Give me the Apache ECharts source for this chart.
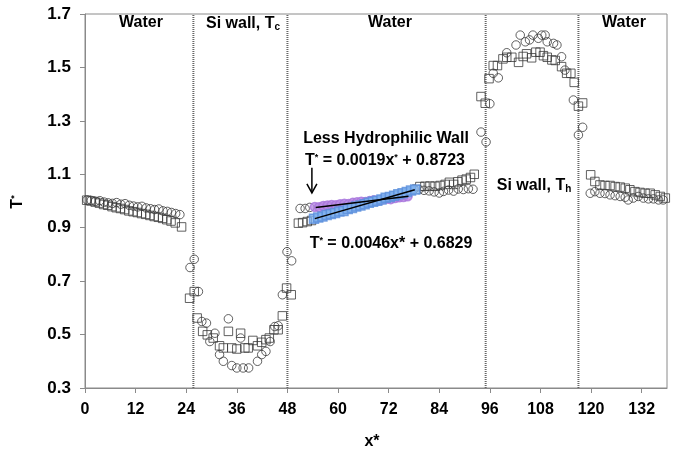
<!DOCTYPE html>
<html>
<head>
<meta charset="utf-8">
<script src="https://cdn.jsdelivr.net/npm/echarts@6/dist/echarts.min.js"></script>
<style>
  * { margin: 0; padding: 0; }
  body { background: #fff; }
  #main { width: 678px; height: 451px; }
</style>
</head>
<body>
<div id="main"></div>
<script>
  // axis ticks
  const xTicks = [0, 12, 24, 36, 48, 60, 72, 84, 96, 108, 120, 132]
  const yTicks = [0.3, 0.5, 0.7, 0.9, 1.1, 1.3, 1.5, 1.7]
  // wall boundaries (x*)
  const wallX = [25.7, 48, 95, 117]

  // open circles [x*, T*]
  const circleData = [
    [0.5, 1.004], [1.5, 1.002], [2.5, 0.999], [3.5, 1.001], [4.5, 0.996], [5.5, 0.993], [6.5, 0.991], [7.5, 0.994],
    [8.5, 0.988], [9.5, 0.990], [10.5, 0.984], [11.5, 0.981], [12.5, 0.978], [13.5, 0.980], [14.5, 0.974], [15.5, 0.971],
    [16.5, 0.968], [17.5, 0.970], [18.5, 0.963], [19.5, 0.961], [20.5, 0.957], [21.5, 0.953], [22.5, 0.949],
    [24.9, 0.751], [25.9, 0.782], [26.9, 0.661], [27.7, 0.549], [28.8, 0.543], [29.6, 0.474], [30.8, 0.505], [31.9, 0.425],
    [32.8, 0.400], [34.0, 0.559], [34.8, 0.384], [36.0, 0.375], [36.9, 0.487], [37.5, 0.375], [38.8, 0.375], [40.9, 0.400],
    [41.9, 0.425], [42.9, 0.437], [43.9, 0.474], [45.0, 0.530], [45.8, 0.533], [46.8, 0.649], [47.9, 0.810], [49.0, 0.776],
    [51.0, 0.972], [52.2, 0.972], [53.3, 0.976],
    [78.0, 1.045], [79.2, 1.043], [80.4, 1.040], [81.6, 1.038], [82.8, 1.034], [84.0, 1.030], [85.0, 1.036], [86.2, 1.041],
    [87.4, 1.037], [88.5, 1.045], [89.7, 1.043], [90.9, 1.046], [92.0, 1.044],
    [93.9, 1.258], [95.1, 1.221], [96.0, 1.364], [96.8, 1.478], [98.0, 1.461], [100.0, 1.555], [102.2, 1.584], [103.2, 1.621],
    [104.4, 1.596], [105.4, 1.603], [106.2, 1.621], [107.5, 1.609], [108.3, 1.621], [109.1, 1.621], [109.6, 1.596],
    [111.1, 1.590], [111.9, 1.584], [113.0, 1.540], [113.8, 1.490], [115.8, 1.378], [117.0, 1.247], [118.0, 1.276],
    [119.8, 1.029], [120.9, 1.035], [122.1, 1.029], [123.3, 1.028], [124.5, 1.023], [125.7, 1.020], [126.9, 1.017],
    [128.1, 1.014], [128.8, 1.004], [130.0, 1.011], [131.2, 1.017], [132.4, 1.011], [133.6, 1.008], [134.8, 1.008],
    [136.0, 1.004], [137.1, 1.004]
  ]

  // open squares [x*, T*]
  const squareData = [
    [0.4, 1.003], [1.4, 1.000], [2.4, 0.996], [3.4, 0.992], [4.4, 0.987], [5.4, 0.984], [6.4, 0.979], [7.4, 0.975],
    [8.4, 0.972], [9.4, 0.968], [10.4, 0.963], [11.4, 0.960], [12.4, 0.957], [13.4, 0.953], [14.4, 0.950], [15.4, 0.946],
    [16.4, 0.942], [17.4, 0.939], [18.4, 0.935], [19.4, 0.930], [20.4, 0.925], [21.4, 0.918], [22.9, 0.903],
    [24.8, 0.636], [25.9, 0.661], [26.6, 0.562], [27.9, 0.512], [29.0, 0.499], [30.4, 0.487], [31.9, 0.458], [32.8, 0.450],
    [34.0, 0.512], [34.8, 0.450], [36.0, 0.446], [36.9, 0.505], [37.9, 0.450], [38.7, 0.450], [39.8, 0.478], [40.9, 0.458],
    [41.9, 0.471], [42.9, 0.481], [43.7, 0.487], [44.8, 0.518], [45.8, 0.518], [46.8, 0.570], [47.8, 0.674], [48.9, 0.649],
    [50.6, 0.917], [51.6, 0.919], [52.7, 0.923], [53.7, 0.927],
    [79.4, 1.054], [80.6, 1.055], [81.8, 1.056], [83.0, 1.055], [84.2, 1.058], [85.4, 1.062], [86.4, 1.070], [87.4, 1.062],
    [88.4, 1.072], [89.4, 1.078], [90.4, 1.082], [91.4, 1.088], [92.3, 1.100],
    [93.9, 1.391], [94.9, 1.366], [95.8, 1.458], [96.8, 1.507], [97.8, 1.507], [99.1, 1.532], [100.0, 1.538], [101.2, 1.538],
    [102.8, 1.519], [103.9, 1.541], [104.7, 1.551], [105.9, 1.536], [106.9, 1.557], [107.9, 1.557], [108.7, 1.544],
    [109.6, 1.538], [110.7, 1.528], [111.5, 1.526], [113.0, 1.503], [114.2, 1.478], [115.2, 1.478], [116.0, 1.444],
    [117.0, 1.355], [118.0, 1.367],
    [119.9, 1.098], [120.9, 1.073], [122.1, 1.060], [123.3, 1.058], [124.5, 1.058], [125.7, 1.054], [126.9, 1.052],
    [128.1, 1.048], [129.2, 1.042], [130.4, 1.035], [131.6, 1.032], [132.8, 1.029], [134.0, 1.029], [135.2, 1.023],
    [136.4, 1.017], [137.6, 1.011]
  ]

  // highlighted points used for the fits (less hydrophilic wall)
  const circleFitPts = [
    [54.5, 0.978], [55.5, 0.977], [56.5, 0.981], [57.5, 0.983], [58.5, 0.985], [59.5, 0.984], [60.5, 0.988], [61.5, 0.990],
    [62.5, 0.989], [63.5, 0.993], [64.5, 0.995], [65.5, 0.997], [66.5, 0.996], [67.5, 1.000], [68.5, 1.003], [69.5, 1.002],
    [70.5, 1.006], [71.5, 1.008], [72.5, 1.007], [73.5, 1.011], [74.5, 1.014], [75.5, 1.015], [76.5, 1.018]
  ]
  const squareFitPts = [
    [54.3, 0.934], [55.3, 0.938], [56.3, 0.942], [57.3, 0.948], [58.3, 0.951], [59.3, 0.955], [60.3, 0.961], [61.3, 0.963],
    [62.3, 0.970], [63.3, 0.974], [64.3, 0.979], [65.3, 0.983], [66.3, 0.988], [67.3, 0.993], [68.3, 0.997], [69.3, 1.001],
    [70.3, 1.006], [71.3, 1.012], [72.3, 1.015], [73.3, 1.020], [74.3, 1.025], [75.3, 1.029], [76.3, 1.034], [77.3, 1.039],
    [78.3, 1.043]
  ]
  // fit line end points
  const circleFitLine = [[54.7, 0.976], [76.7, 1.018]]
  const squareFitLine = [[54.5, 0.934], [78.2, 1.042]]
  // arrow [x*, from T*, to T*]
  const arrowData = [[53.8, 1.124, 1.030]]

  const font = "'Liberation Sans', Arial, sans-serif"
  const boldTxt = { fontFamily: font, fontWeight: 'bold', fontSize: 16, fill: '#000' }
  const supTxt = { fontFamily: font, fontWeight: 'bold', fontSize: 9, fill: '#000', verticalAlign: 'top' }
  const subTxt = { fontFamily: font, fontWeight: 'bold', fontSize: 10, fill: '#000', verticalAlign: 'bottom' }

  function label (x, y, text, extra) {
    return Object.assign({
      type: 'text', x: x, y: y, z: 100,
      style: {
        text: text, align: 'center', verticalAlign: 'middle',
        font: 'bold 16px ' + font, fill: '#000',
        rich: { b: boldTxt, s: supTxt, u: subTxt }
      }
    }, extra || {})
  }

  const chart = echarts.init(document.getElementById('main'))

  const wallSeries = wallX.map(function (x) {
    return {
      type: 'line', symbol: 'none', silent: true, z: 1,
      data: [[x, 0.3], [x, 1.7]],
      lineStyle: { color: '#666', width: 2, type: [1, 1] }
    }
  })

  chart.setOption({
    animation: false,
    grid: {
      left: 85, right: 11, top: 14, bottom: 63,
      show: true, borderColor: '#8a8a8a', borderWidth: 1
    },
    xAxis: {
      type: 'value', min: 0, max: 138,
      axisLine: { lineStyle: { color: '#8a8a8a', width: 1 } },
      axisTick: { show: true, length: 5, lineStyle: { color: '#8a8a8a' }, customValues: xTicks },
      axisLabel: {
        customValues: xTicks, margin: 14,
        color: '#000', fontFamily: font, fontWeight: 'bold', fontSize: 16
      },
      splitLine: { show: false }
    },
    yAxis: {
      type: 'value', min: 0.3, max: 1.7,
      axisLine: { show: true, lineStyle: { color: '#8a8a8a', width: 1 } },
      axisTick: { show: true, length: 5, lineStyle: { color: '#8a8a8a' }, customValues: yTicks },
      axisLabel: {
        customValues: yTicks, margin: 14,
        color: '#000', fontFamily: font, fontWeight: 'bold', fontSize: 17,
        formatter: function (v) { return v.toFixed(1) }
      },
      splitLine: { show: false }
    },
    series: wallSeries.concat([
      {
        type: 'scatter', data: circleData, symbol: 'circle', symbolSize: 8.5, z: 3,
        itemStyle: { color: 'rgba(0,0,0,0)', borderColor: '#3a3a3a', borderWidth: 1 }
      },
      {
        type: 'scatter', data: squareData, symbol: 'rect', symbolSize: 8.5, z: 3,
        itemStyle: { color: 'rgba(0,0,0,0)', borderColor: '#3a3a3a', borderWidth: 1 }
      },
      {
        type: 'scatter', data: circleFitPts, symbol: 'circle', symbolSize: 9, z: 4,
        itemStyle: { color: '#b889e4', borderColor: '#a874dc', borderWidth: 1.5 }
      },
      {
        type: 'scatter', data: squareFitPts, symbol: 'rect', symbolSize: 9, z: 4,
        itemStyle: { color: '#80b2ee', borderColor: '#5a8fdc', borderWidth: 1.5 }
      },
      {
        type: 'line', data: circleFitLine, symbol: 'none', z: 5,
        lineStyle: { color: '#000', width: 1.5 }
      },
      {
        type: 'line', data: squareFitLine, symbol: 'none', z: 5,
        lineStyle: { color: '#000', width: 1.5 }
      },
      {
        type: 'custom', data: arrowData, z: 6,
        encode: { x: 0, y: [1, 2] },
        renderItem: function (params, api) {
          const a = api.coord([api.value(0), api.value(1)])
          const b = api.coord([api.value(0), api.value(2)])
          const st = { stroke: '#000', lineWidth: 1.5, fill: 'none' }
          return {
            type: 'group',
            children: [
              { type: 'polyline', shape: { points: [a, b] }, style: st },
              { type: 'polyline', shape: { points: [[b[0] - 5, b[1] - 9], b, [b[0] + 5, b[1] - 9]] }, style: st }
            ]
          }
        }
      }
    ]),
    graphic: [
      label(141, 23, '{b|Water}'),
      label(243, 24, '{b|Si wall, T}{u|c}'),
      label(390, 23, '{b|Water}'),
      label(624, 23, '{b|Water}'),
      label(534, 186, '{b|Si wall, T}{u|h}'),
      label(386, 139, '{b|Less Hydrophilic Wall}'),
      label(385, 161, '{b|T}{s|*}{b| = 0.0019x}{s|*}{b| + 0.8723}'),
      label(391, 244, '{b|T}{s|*}{b| = 0.0046x* + 0.6829}'),
      label(372, 442, '{b|x*}'),
      label(18, 202, '{b|T}{s|*}', { rotation: Math.PI / 2 })
    ]
  })
</script>
</body>
</html>
